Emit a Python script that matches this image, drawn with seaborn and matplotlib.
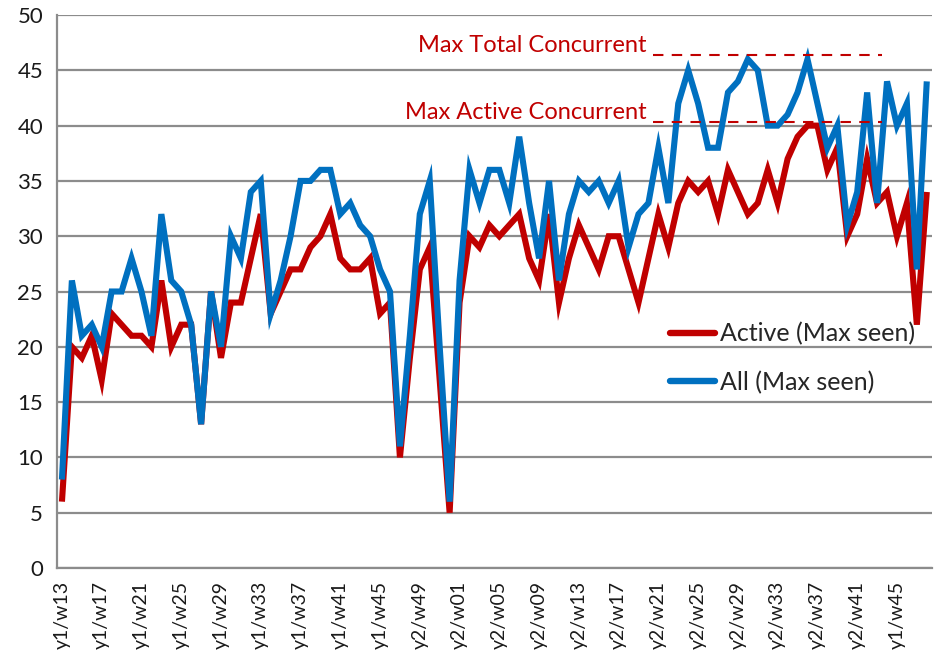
import numpy as np
import pandas as pd
import matplotlib
matplotlib.use("Agg")
import matplotlib.pyplot as plt
import seaborn as sns
from matplotlib.lines import Line2D
from matplotlib.ticker import MultipleLocator, FixedLocator

# ---- data ----
active_max_seen = [6, 20, 19, 21, 17, 23, 22, 21, 21, 20, 26, 20, 22, 22, 13, 25, 19, 24, 24, 28,
                   32, 23, 25, 27, 27, 29, 30, 32, 28, 27, 27, 28, 23, 24, 10, 19, 27, 29, 17, 5,
                   24, 30, 29, 31, 30, 31, 32, 28, 26, 32, 24, 28, 31, 29, 27, 30, 30, 27, 24, 28,
                   32, 29, 33, 35, 34, 35, 32, 36, 34, 32, 33, 36, 33, 37, 39, 40, 40, 36, 38, 30,
                   32, 37, 33, 34, 30, 33, 22, 34]
all_max_seen = [8, 26, 21, 22, 20, 25, 25, 28, 25, 21, 32, 26, 25, 22, 13, 25, 20, 30, 28, 34,
                35, 23, 26, 30, 35, 35, 36, 36, 32, 33, 31, 30, 27, 25, 11, 21, 32, 35, 20, 6,
                26, 36, 33, 36, 36, 33, 39, 33, 28, 35, 26, 32, 35, 34, 35, 33, 35, 29, 32, 33,
                38, 33, 42, 45, 42, 38, 38, 43, 44, 46, 45, 40, 40, 41, 43, 46, 42, 38, 40, 31,
                34, 43, 33, 44, 40, 42, 27, 44]
tick_labels = ["y1/w13", "y1/w17", "y1/w21", "y1/w25", "y1/w29", "y1/w33", "y1/w37", "y1/w41",
               "y1/w45", "y2/w49", "y2/w01", "y2/w05", "y2/w09", "y2/w13", "y2/w17", "y2/w21",
               "y2/w25", "y2/w29", "y2/w33", "y2/w37", "y2/w41", "y1/w45"]
series_names = ["Active (Max seen)", "All (Max seen)"]
annotation_texts = ["Max Total Concurrent", "Max Active Concurrent"]

RED = "#C00000"
BLUE = "#0070C0"
GRID = "#8C8C8C"

n = len(active_max_seen)
week_idx = np.arange(n)
df = pd.DataFrame({
    "week": np.concatenate([week_idx, week_idx]),
    "value": active_max_seen + all_max_seen,
    "series": [series_names[0]] * n + [series_names[1]] * n,
})

sns.set_style("white")
plt.rcParams["font.family"] = ["Lato", "DejaVu Sans"]

fig = plt.figure(figsize=(9.37, 6.68), dpi=100)
ax = fig.add_axes([0.0608, 0.1497, 0.9336, 0.8278])

sns.lineplot(data=df, x="week", y="value", hue="series",
             palette={series_names[0]: RED, series_names[1]: BLUE},
             linewidth=4.4, ax=ax, legend=False, sort=False)
for ln in ax.get_lines():
    ln.set_solid_joinstyle("miter")
    ln.set_solid_capstyle("butt")

ax.set_xlim(-0.5, n - 0.5)
ax.set_ylim(0, 50)
ax.yaxis.set_major_locator(MultipleLocator(5))
ax.grid(axis="y", color=GRID, linewidth=1.6)
ax.grid(axis="x", visible=False)
ax.set_axisbelow(True)
ax.set_xlabel("")
ax.set_ylabel("")

for s in ["top", "right"]:
    ax.spines[s].set_visible(False)
for s in ["left", "bottom"]:
    ax.spines[s].set_color(GRID)
    ax.spines[s].set_linewidth(1.6)

ax.set_xticks(week_idx[::4])
ax.set_xticklabels(tick_labels, rotation=90, fontsize=14, color="#1a1a1a")
ax.xaxis.set_minor_locator(FixedLocator(np.arange(-0.5, n, 1.0)))
ax.tick_params(axis="x", which="major", length=0, pad=9)
ax.tick_params(axis="x", which="minor", length=6, width=1.2, color=GRID, direction="out")
ax.tick_params(axis="y", which="major", length=6, width=1.2, color=GRID, direction="out",
               labelsize=16, labelcolor="#1a1a1a", pad=4)

# annotations: max levels
max_total = max(all_max_seen)
max_active = max(active_max_seen)
x0, x1 = 59.5, 82.5
ax.plot([x0, x1], [max_total + 0.4, max_total + 0.4], color=RED, lw=1.5, ls=(0, (5, 4)))
ax.plot([x0, x1], [max_active + 0.35, max_active + 0.35], color=RED, lw=1.5, ls=(0, (5, 4)))
ax.text(58.8, max_total + 1.2, annotation_texts[0], color=RED, fontsize=17,
        ha="right", va="center")
ax.text(58.8, max_active + 1.2, annotation_texts[1], color=RED, fontsize=17,
        ha="right", va="center")

handles = [Line2D([0], [0], color=RED, lw=4.6), Line2D([0], [0], color=BLUE, lw=4.6)]
fig.legend(handles, series_names, loc="upper left", bbox_to_anchor=(0.704, 0.533),
           frameon=False, fontsize=18, handlelength=1.8, handletextpad=0.2,
           labelspacing=1.02, borderaxespad=0)

fig.savefig("out.png", dpi=100)
